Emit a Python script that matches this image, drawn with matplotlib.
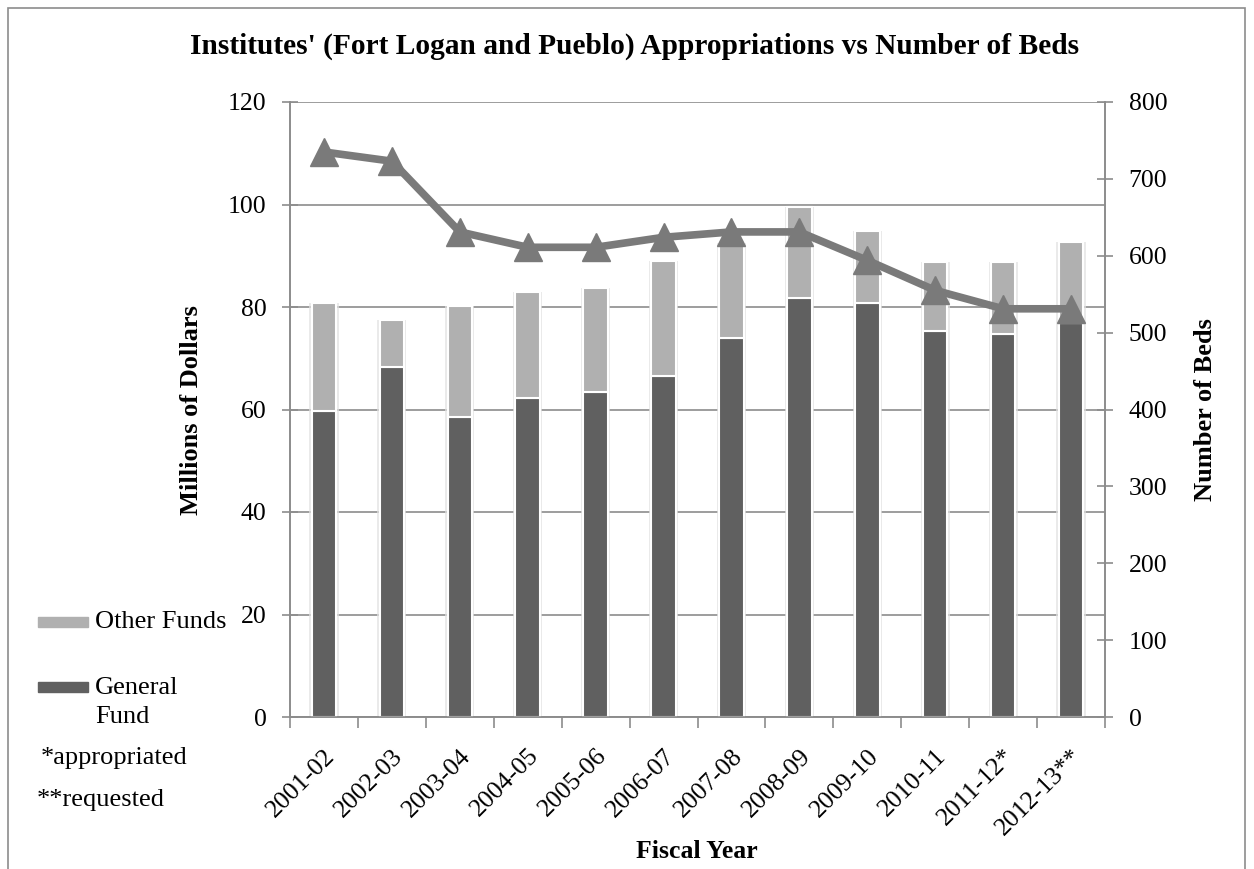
import matplotlib
matplotlib.use("Agg")
import matplotlib.pyplot as plt
from matplotlib.patches import Rectangle
import numpy as np

years = ["2001-02", "2002-03", "2003-04", "2004-05", "2005-06", "2006-07",
         "2007-08", "2008-09", "2009-10", "2010-11", "2011-12*", "2012-13**"]
general_fund = [59.8, 68.2, 58.5, 62.3, 63.5, 66.6, 73.9, 81.8, 80.8, 75.3, 74.8, 76.9]
total_funds = [80.7, 77.5, 80.1, 83.0, 83.7, 88.9, 92.5, 99.5, 94.9, 88.8, 88.8, 92.7]
other_funds = [t - g for t, g in zip(total_funds, general_fund)]
beds = [735, 723, 631, 611, 611, 624, 631, 631, 594, 555, 531, 531]
legend_labels = ["Other Funds", "General\nFund"]
notes = ["*appropriated", "**requested"]

plt.rcParams['font.family'] = ['Liberation Serif', 'DejaVu Serif']

W, H = 1254, 869
fig = plt.figure(figsize=(W / 100, H / 100), dpi=100)
fig.patches.append(Rectangle((8 / W, -0.05), (1245 - 8) / W, (H - 8) / H + 0.05,
                             transform=fig.transFigure, fill=False,
                             edgecolor='#8c8c8c', linewidth=1.2))

ax = fig.add_axes([290 / W, (H - 717) / H, 815 / W, 615 / H])
x = np.arange(len(years))
w = 0.36
gf_color = '#606060'
of_color = '#b0b0b0'
# soft glow behind the bars
ax.bar(x, total_funds, w + 0.07, color='#e2e2e2', alpha=0.7, linewidth=0, zorder=2)
b1 = ax.bar(x, general_fund, w, color=gf_color, edgecolor='white', linewidth=1.5, zorder=3)
b2 = ax.bar(x, other_funds, w, bottom=general_fund, color=of_color, edgecolor='white',
            linewidth=1.5, zorder=3)

ax.set_xlim(-0.5, len(years) - 0.5)
ax.set_ylim(0, 120)
ax.set_yticks(np.arange(0, 121, 20))
ax.yaxis.grid(True, color='#8c8c8c', linewidth=1.2, zorder=0)
ax.set_axisbelow(True)
for s in ['left', 'right', 'top', 'bottom']:
    ax.spines[s].set_color('#8c8c8c')
    ax.spines[s].set_linewidth(1.2)
ax.spines['top'].set_visible(False)

ax.set_xticks(np.arange(-0.5, len(years) + 0.5, 1))
ax.set_xticklabels([])
ax.set_xticks(x, minor=True)
ax.set_xticklabels(years, minor=True, rotation=45, ha='right', va='top',
                   rotation_mode='anchor', fontsize=18.5)
ax.tick_params(axis='x', which='major', length=8, color='#8c8c8c', width=1.2, direction='out')
ax.tick_params(axis='x', which='minor', length=0, pad=20)
ax.tick_params(axis='y', length=12, direction='inout', color='#8c8c8c', width=1.2,
               labelsize=18.5, pad=11)

ax2 = ax.twinx()
ax2.set_ylim(0, 800)
ax2.set_yticks(np.arange(0, 801, 100))
ax2.tick_params(axis='y', length=12, direction='inout', color='#8c8c8c', width=1.2,
                labelsize=18.5, pad=11)
for s in ['left', 'right', 'top', 'bottom']:
    ax2.spines[s].set_color('#8c8c8c')
    ax2.spines[s].set_linewidth(1.2)
ax2.spines['top'].set_visible(False)
ax2.plot(x, beds, color='#7a7a7a', linewidth=5.5, marker='^', markersize=20,
         markerfacecolor='#7a7a7a', markeredgecolor='#7a7a7a', zorder=4)

fig.text(635 / W, (H - 46) / H,
         "Institutes' (Fort Logan and Pueblo) Appropriations vs Number of Beds",
         ha='center', va='center', fontsize=21.2, fontweight='bold')
fig.text(192 / W, (H - 410) / H, "Millions of Dollars", rotation=90,
         ha='center', va='center', fontsize=19, fontweight='bold')
fig.text(1205 / W, (H - 410) / H, "Number of Beds", rotation=90,
         ha='center', va='center', fontsize=19, fontweight='bold')
fig.text(697 / W, (H - 852) / H, "Fiscal Year",
         ha='center', va='center', fontsize=18.5, fontweight='bold')

# legend (manual, Excel-style)
fig.patches.append(Rectangle((38 / W, (H - 627) / H), 50 / W, 10 / H,
                             transform=fig.transFigure, color=of_color))
fig.text(95 / W, (H - 622) / H, legend_labels[0], ha='left', va='center', fontsize=19)
fig.patches.append(Rectangle((38 / W, (H - 692) / H), 50 / W, 10 / H,
                             transform=fig.transFigure, color=gf_color))
fig.text(95 / W, (H - 677) / H, legend_labels[1], ha='left', va='top', fontsize=19,
         linespacing=1.42)

fig.text(41 / W, (H - 758) / H, notes[0], ha='left', va='center', fontsize=19)
fig.text(37 / W, (H - 800) / H, notes[1], ha='left', va='center', fontsize=19)

fig.savefig("out.png", dpi=100)
